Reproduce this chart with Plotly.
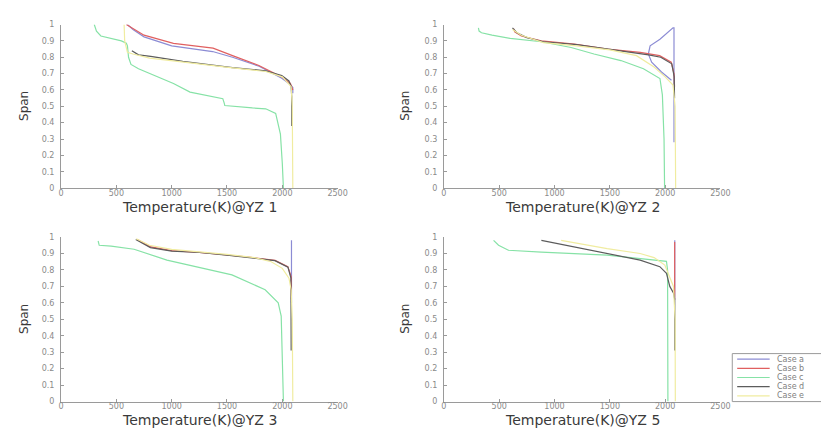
import plotly.graph_objects as go

# ---------------- data ----------------
CASES = ["Case a", "Case b", "Case c", "Case d", "Case e"]
PANEL_TITLES = ["Temperature(K)@YZ 1", "Temperature(K)@YZ 2",
                "Temperature(K)@YZ 3", "Temperature(K)@YZ 5"]
X_TICKS = [0, 500, 1000, 1500, 2000, 2500]
Y_TICKS = [0, 0.1, 0.2, 0.3, 0.4, 0.5, 0.6, 0.7, 0.8, 0.9, 1]
Y_TICK_TEXT = ["0", "0.1", "0.2", "0.3", "0.4", "0.5", "0.6", "0.7", "0.8", "0.9", "1"]

# YZ 1
YZ1_A_T = [600, 650, 750, 1000, 1370, 1550, 1790, 1995, 2070, 2095, 2095]
YZ1_A_S = [1.0, 0.97, 0.925, 0.87, 0.835, 0.80, 0.745, 0.672, 0.635, 0.615, 0.58]
YZ1_B_T = [590, 650, 750, 1016, 1374, 1550, 1788, 1995, 2073, 2095]
YZ1_B_S = [1.0, 0.975, 0.935, 0.885, 0.856, 0.81, 0.75, 0.68, 0.64, 0.60]
YZ1_C_T = [300, 320, 360, 450, 545, 590, 600, 610, 632, 700, 810, 1016, 1166, 1374,
           1462, 1475, 1480, 1730, 1850, 1940, 1983, 2000, 2010]
YZ1_C_S = [1.0, 0.96, 0.93, 0.915, 0.90, 0.886, 0.87, 0.80, 0.756, 0.73, 0.70, 0.64,
           0.587, 0.557, 0.547, 0.52, 0.505, 0.49, 0.485, 0.457, 0.33, 0.15, 0.0]
YZ1_D_T = [640, 700, 810, 1100, 1550, 1850, 1995, 2060, 2080, 2085, 2085]
YZ1_D_S = [0.84, 0.815, 0.805, 0.775, 0.737, 0.717, 0.688, 0.655, 0.62, 0.56, 0.38]
YZ1_E_T = [570, 575, 600, 650, 800, 1100, 1550, 1850, 2000, 2080, 2090, 2095]
YZ1_E_S = [1.0, 0.90, 0.83, 0.82, 0.795, 0.77, 0.735, 0.713, 0.68, 0.62, 0.5, 0.0]

# YZ 2
YZ2_A_T = [2057, 1967, 1878, 1848, 1864, 1953, 2071, 2080, 2080]
YZ2_A_S = [0.66, 0.71, 0.77, 0.82, 0.87, 0.91, 0.98, 0.98, 0.28]
YZ2_B_T = [630, 640, 700, 880, 1180, 1480, 1775, 1850, 1950, 2055, 2080, 2085]
YZ2_B_S = [0.975, 0.955, 0.93, 0.90, 0.88, 0.85, 0.83, 0.82, 0.81, 0.77, 0.70, 0.62]
YZ2_C_T = [312, 318, 340, 435, 600, 881, 1150, 1357, 1600, 1804, 1953, 1975, 1990, 1995]
YZ2_C_S = [0.98, 0.96, 0.95, 0.935, 0.915, 0.895, 0.86, 0.82, 0.78, 0.73, 0.67, 0.57, 0.3, 0.0]
YZ2_D_T = [620, 660, 750, 900, 1200, 1500, 1780, 1850, 1960, 2060, 2082, 2085]
YZ2_D_S = [0.98, 0.95, 0.92, 0.895, 0.877, 0.848, 0.825, 0.815, 0.80, 0.76, 0.68, 0.55]
YZ2_E_T = [620, 700, 900, 1200, 1500, 1741, 1900, 2000, 2071, 2090, 2095]
YZ2_E_S = [0.97, 0.935, 0.89, 0.87, 0.845, 0.81, 0.74, 0.68, 0.63, 0.5, 0.0]

# YZ 3
YZ3_A_T = [2083, 2083]
YZ3_A_S = [0.98, 0.60]
YZ3_B_T = [690, 810, 1000, 1250, 1500, 1700, 1935, 2050, 2080, 2082]
YZ3_B_S = [0.985, 0.94, 0.917, 0.907, 0.891, 0.878, 0.858, 0.82, 0.76, 0.62]
YZ3_C_T = [335, 345, 453, 660, 957, 1252, 1545, 1845, 1963, 1990, 2000, 2010]
YZ3_C_S = [0.976, 0.95, 0.945, 0.926, 0.86, 0.817, 0.77, 0.68, 0.60, 0.52, 0.3, 0.0]
YZ3_D_T = [675, 808, 1000, 1252, 1500, 1696, 1933, 2051, 2078, 2080]
YZ3_D_S = [0.985, 0.936, 0.915, 0.906, 0.89, 0.877, 0.857, 0.817, 0.75, 0.31]
YZ3_E_T = [680, 800, 1000, 1250, 1500, 1750, 1900, 2000, 2060, 2080, 2090, 2095]
YZ3_E_S = [0.99, 0.95, 0.925, 0.91, 0.895, 0.875, 0.85, 0.81, 0.75, 0.68, 0.5, 0.0]

# YZ 5
YZ5_A_T = [2087, 2087]
YZ5_A_S = [0.98, 0.62]
YZ5_B_T = [2086, 2086]
YZ5_B_S = [0.97, 0.62]
YZ5_C_T = [449, 494, 583, 881, 1476, 1833, 2012, 2022, 2025]
YZ5_C_S = [0.98, 0.95, 0.92, 0.908, 0.89, 0.862, 0.852, 0.80, 0.0]
YZ5_D_T = [881, 1179, 1476, 1774, 1952, 2012, 2042, 2075, 2087, 2087]
YZ5_D_S = [0.98, 0.94, 0.90, 0.86, 0.82, 0.78, 0.70, 0.66, 0.62, 0.31]
YZ5_E_T = [1060, 1476, 1774, 1900, 1997, 2040, 2075, 2090, 2092]
YZ5_E_S = [0.98, 0.93, 0.90, 0.875, 0.83, 0.76, 0.70, 0.5, 0.0]

PANELS = [
    [(YZ1_A_T, YZ1_A_S), (YZ1_B_T, YZ1_B_S), (YZ1_C_T, YZ1_C_S), (YZ1_D_T, YZ1_D_S), (YZ1_E_T, YZ1_E_S)],
    [(YZ2_A_T, YZ2_A_S), (YZ2_B_T, YZ2_B_S), (YZ2_C_T, YZ2_C_S), (YZ2_D_T, YZ2_D_S), (YZ2_E_T, YZ2_E_S)],
    [(YZ3_A_T, YZ3_A_S), (YZ3_B_T, YZ3_B_S), (YZ3_C_T, YZ3_C_S), (YZ3_D_T, YZ3_D_S), (YZ3_E_T, YZ3_E_S)],
    [(YZ5_A_T, YZ5_A_S), (YZ5_B_T, YZ5_B_S), (YZ5_C_T, YZ5_C_S), (YZ5_D_T, YZ5_D_S), (YZ5_E_T, YZ5_E_S)],
]

# ---------------- style ----------------
W, H = 821, 434
COLORS = ["#8c8cd4", "#e06060", "#86e2a6", "#5c5c5c", "#f0eca0"]
FONT = "DejaVu Sans"

def px(x):
    return x / W

def py(y):
    return 1 - y / H

X_DOMAINS = [(59, 340), (448, 729), (59, 340), (448, 729)]
Y_DOMAINS = [(21, 188), (21, 188), (238, 406), (238, 406)]
TITLE_Y = [207, 207, 425, 425]
SPAN_X = [22, 409, 22, 409]

fig = go.Figure()
layout = dict(
    width=W, height=H, margin=dict(l=0, r=0, t=0, b=0),
    paper_bgcolor="white", plot_bgcolor="white", showlegend=False,
    font=dict(family=FONT, color="#888"),
)
annotations = []
shapes = []

for i, panel in enumerate(PANELS):
    xa = "x" if i == 0 else f"x{i+1}"
    ya = "y" if i == 0 else f"y{i+1}"
    for k, (t, s) in enumerate(panel):
        fig.add_trace(go.Scatter(
            x=t, y=s, mode="lines", name=CASES[k],
            line=dict(color=COLORS[k], width=1.2),
            xaxis=xa, yaxis=ya, showlegend=False,
        ))
    x0, x1 = X_DOMAINS[i]
    y0, y1 = Y_DOMAINS[i]
    axcommon = dict(showline=True, linecolor="#9a9a9a", linewidth=1, ticks="inside",
                    ticklen=3, tickcolor="#9a9a9a", showgrid=False, zeroline=False,
                    tickfont=dict(size=8, color="#8a8a8a", family=FONT))
    layout["xaxis" if i == 0 else f"xaxis{i+1}"] = dict(
        domain=[px(x0), px(x1)], range=[0, 2500], tickvals=X_TICKS,
        anchor=ya, ticklabelstandoff=-3, **axcommon)
    layout["yaxis" if i == 0 else f"yaxis{i+1}"] = dict(
        domain=[py(y1), py(y0)], range=[0, 1], tickvals=Y_TICKS, ticktext=Y_TICK_TEXT,
        anchor=xa, ticklabelstandoff=4, **axcommon)
    annotations.append(dict(
        x=px((x0 + x1) / 2), y=py(TITLE_Y[i]), xref="paper", yref="paper",
        text=PANEL_TITLES[i], showarrow=False, xanchor="center", yanchor="middle",
        font=dict(size=14, color="#3a3a3a", family=FONT)))
    annotations.append(dict(
        x=px(SPAN_X[i]), y=py((y0 + y1) / 2), xref="paper", yref="paper",
        text="Span", textangle=-90, showarrow=False, xanchor="center", yanchor="middle",
        font=dict(size=12, color="#3a3a3a", family=FONT)))

# custom compact legend (box clipped by the right edge as in the reference)
LEG_X0, LEG_Y0, LEG_Y1 = 741, 357, 406
shapes.append(dict(type="rect", xref="paper", yref="paper",
                   x0=px(LEG_X0), x1=px(840), y0=py(LEG_Y1), y1=py(LEG_Y0),
                   line=dict(color="#9a9a9a", width=1), fillcolor="white", layer="above"))
for k, name in enumerate(CASES):
    yy = 362.7 + k * 9.35
    shapes.append(dict(type="line", xref="paper", yref="paper",
                       x0=px(746), x1=px(779), y0=py(yy), y1=py(yy),
                       line=dict(color=COLORS[k], width=1.2), layer="above"))
    annotations.append(dict(x=px(784), y=py(yy), xref="paper", yref="paper",
                            text=name, showarrow=False, xanchor="left", yanchor="middle",
                            font=dict(size=8, color="#808080", family=FONT)))

layout["annotations"] = annotations
layout["shapes"] = shapes
fig.update_layout(**layout)
fig.write_html("out.html")
